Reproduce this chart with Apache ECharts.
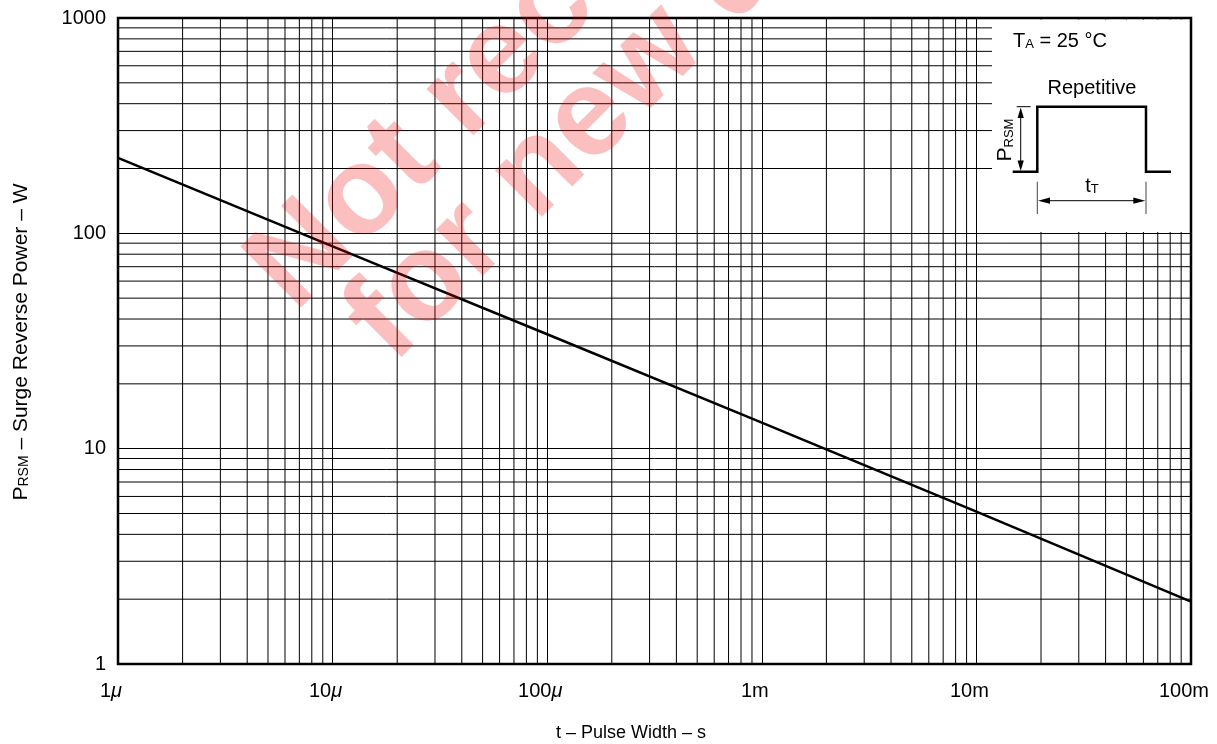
<!DOCTYPE html>
<html>
<head>
<meta charset="utf-8">
<script src="https://cdn.jsdelivr.net/npm/echarts@6/dist/echarts.min.js"></script>
<style>
  html, body { margin: 0; padding: 0; background: #fff; }
  #chart { width: 1217px; height: 744px; }
</style>
</head>
<body>
<div id="chart"></div>
<script>
// pulse width (s) and surge reverse power (W)
var pulseWidth = [1e-6, 1e-5, 1e-4, 1e-3, 1e-2, 1e-1];
var surgePower = [224, 87, 34, 13.2, 5.1, 1.95];

var xTickLabels = ["{n|1}{mu|\u03bc}", "{n|10}{mu|\u03bc}", "{n|100}{mu|\u03bc}", "{n|1m}", "{n|10m}", "{n|100m}"];
var xDecades = [-6, -5, -4, -3, -2];
var yDecades = [0, 1, 2];
var minorSteps = [2, 3, 4, 5, 6, 7, 8, 9];

var X_MIN = 1e-6, X_MAX = 0.1, Y_MIN = 1, Y_MAX = 1000;
var FONT = "Liberation Sans, Arial, sans-serif";

// plot area
var G = { left: 118, top: 18, width: 1073, height: 646 };

var minorX = [], minorY = [];
xDecades.forEach(function (e) {
  minorSteps.forEach(function (m) { minorX.push([m * Math.pow(10, e)]); });
});
yDecades.forEach(function (e) {
  minorSteps.forEach(function (m) { minorY.push([m * Math.pow(10, e)]); });
});

var myChart = echarts.init(document.getElementById("chart"));

var labelRich = {
  n: { fontSize: 20, fontFamily: FONT, color: "#000" },
  mu: { fontSize: 20, fontFamily: FONT, fontStyle: "italic", color: "#000" }
};

function gridLine(vertical) {
  return function (params, api) {
    var v = api.value(0);
    var a = vertical ? api.coord([v, Y_MIN]) : api.coord([X_MIN, v]);
    var b = vertical ? api.coord([v, Y_MAX]) : api.coord([X_MAX, v]);
    return {
      type: "line",
      shape: { x1: a[0], y1: a[1], x2: b[0], y2: b[1] },
      style: { stroke: "#000", lineWidth: 1 }
    };
  };
}

// inset box (top right)
var bx = 992, by = 19.5;
var inset = [
  { type: "rect", z: 10, silent: true, shape: { x: bx, y: by, width: 1190 - bx, height: 232 - by }, style: { fill: "#fff" } },
  {
    type: "text", z: 11, x: 1013, y: 41, style: {
      text: "{a|T}{s|A}{a| = 25 \u00b0C}", verticalAlign: "middle",
      rich: { a: { fontSize: 20, fontFamily: FONT, fill: "#000", verticalAlign: "bottom" }, s: { fontSize: 13, fontFamily: FONT, fill: "#000", verticalAlign: "bottom" } }
    }
  },
  { type: "text", z: 11, x: 1092, y: 88, style: { text: "Repetitive", font: "20px " + FONT, fill: "#000", align: "center", verticalAlign: "middle" } },
  {
    type: "polyline", z: 11, shape: { points: [[1012.7, 171.7], [1037.3, 171.7], [1037.3, 106.7], [1146, 106.7], [1146, 171.7], [1171, 171.7]] },
    style: { stroke: "#000", lineWidth: 2.5, fill: null }
  },
  // P_RSM arrow
  { type: "line", z: 11, shape: { x1: 1016.7, y1: 106.7, x2: 1030.7, y2: 106.7 }, style: { stroke: "#000", lineWidth: 1 } },
  { type: "line", z: 11, shape: { x1: 1020.7, y1: 112, x2: 1020.7, y2: 166 }, style: { stroke: "#000", lineWidth: 1 } },
  { type: "polygon", z: 11, shape: { points: [[1020.7, 107.5], [1017.6, 118], [1023.8, 118]] }, style: { fill: "#000" } },
  { type: "polygon", z: 11, shape: { points: [[1020.7, 171], [1017.6, 160.5], [1023.8, 160.5]] }, style: { fill: "#000" } },
  {
    type: "text", z: 11, x: 1005, y: 140, rotation: Math.PI / 2, style: {
      text: "{p|P}{s|RSM}", align: "center", verticalAlign: "middle",
      rich: { p: { fontSize: 21, fontFamily: FONT, fill: "#000", verticalAlign: "bottom" }, s: { fontSize: 13, fontFamily: FONT, fill: "#000", verticalAlign: "bottom" } }
    }
  },
  // t_T arrow
  { type: "line", z: 11, shape: { x1: 1037.3, y1: 181.7, x2: 1037.3, y2: 214 }, style: { stroke: "#444", lineWidth: 1 } },
  { type: "line", z: 11, shape: { x1: 1146, y1: 181.7, x2: 1146, y2: 214 }, style: { stroke: "#444", lineWidth: 1 } },
  { type: "line", z: 11, shape: { x1: 1045, y1: 200.7, x2: 1138, y2: 200.7 }, style: { stroke: "#000", lineWidth: 1 } },
  { type: "polygon", z: 11, shape: { points: [[1038, 200.7], [1050, 197.6], [1050, 203.8]] }, style: { fill: "#000" } },
  { type: "polygon", z: 11, shape: { points: [[1145.3, 200.7], [1133.3, 197.6], [1133.3, 203.8]] }, style: { fill: "#000" } },
  {
    type: "text", z: 11, x: 1092, y: 186, style: {
      text: "{t|t}{s|T}", align: "center", verticalAlign: "middle",
      rich: { t: { fontSize: 20, fontFamily: FONT, fill: "#000", verticalAlign: "bottom" }, s: { fontSize: 13, fontFamily: FONT, fill: "#000", verticalAlign: "bottom" } }
    }
  }
];

var frame = [
  { type: "rect", z: 12, silent: true, shape: { x: G.left, y: G.top, width: G.width, height: G.height }, style: { fill: null, stroke: "#000", lineWidth: 2.5 } },
  {
    type: "text", z: 12, x: 21, y: 342, rotation: Math.PI / 2, style: {
      text: "{p|P}{s|RSM}{p| \u2013 Surge Reverse Power \u2013 W}", align: "center", verticalAlign: "middle",
      rich: { p: { fontSize: 21, fontFamily: FONT, fill: "#000", verticalAlign: "bottom" }, s: { fontSize: 14, fontFamily: FONT, fill: "#000", verticalAlign: "bottom" } }
    }
  },
  { type: "text", z: 12, x: 631, y: 733, style: { text: "t \u2013 Pulse Width \u2013 s", font: "18px " + FONT, fill: "#000", align: "center", verticalAlign: "middle" } }
];

var watermark = [
  { type: "text", z: 20, silent: true, x: 271, y: 289, rotation: Math.PI / 4, style: { text: "Not recommended", font: "bold 125px " + FONT, fill: "rgba(240,0,0,0.25)", align: "left", verticalAlign: "middle" } },
  { type: "text", z: 20, silent: true, x: 369, y: 341, rotation: Math.PI / 4, style: { text: "for new designs", font: "bold 125px " + FONT, fill: "rgba(240,0,0,0.25)", align: "left", verticalAlign: "middle" } }
];

myChart.setOption({
  animation: false,
  backgroundColor: "#fff",
  grid: { left: G.left, top: G.top, width: G.width, height: G.height, containLabel: false },
  xAxis: {
    type: "log",
    logBase: 10,
    min: X_MIN,
    max: X_MAX,
    axisLine: { show: false },
    axisTick: { show: false },
    splitLine: { show: true, lineStyle: { color: "#000", width: 1 } },
    axisLabel: {
      margin: 17,
      padding: [0, 14, 0, 0],
      formatter: function (v) {
        var i = Math.round(Math.log10(v)) + 6;
        return xTickLabels[i] || "";
      },
      rich: labelRich
    }
  },
  yAxis: {
    type: "log",
    logBase: 10,
    min: Y_MIN,
    max: Y_MAX,
    axisLine: { show: false },
    axisTick: { show: false },
    splitLine: { show: true, lineStyle: { color: "#000", width: 1 } },
    axisLabel: {
      margin: 12, fontSize: 20, fontFamily: FONT, color: "#000",
      formatter: function (v) { return String(Math.round(v)); }
    }
  },
  series: [
    {
      type: "custom",
      silent: true,
      renderItem: gridLine(true),
      encode: { x: 0 },
      data: minorX,
      z: 1
    },
    {
      type: "custom",
      silent: true,
      renderItem: gridLine(false),
      encode: { y: 0 },
      data: minorY,
      z: 1
    },
    {
      type: "line",
      data: pulseWidth.map(function (t, i) { return [t, surgePower[i]]; }),
      symbol: "none",
      lineStyle: { color: "#000", width: 2.5 },
      z: 3
    }
  ],
  graphic: inset.concat(frame, watermark)
});
</script>
</body>
</html>
